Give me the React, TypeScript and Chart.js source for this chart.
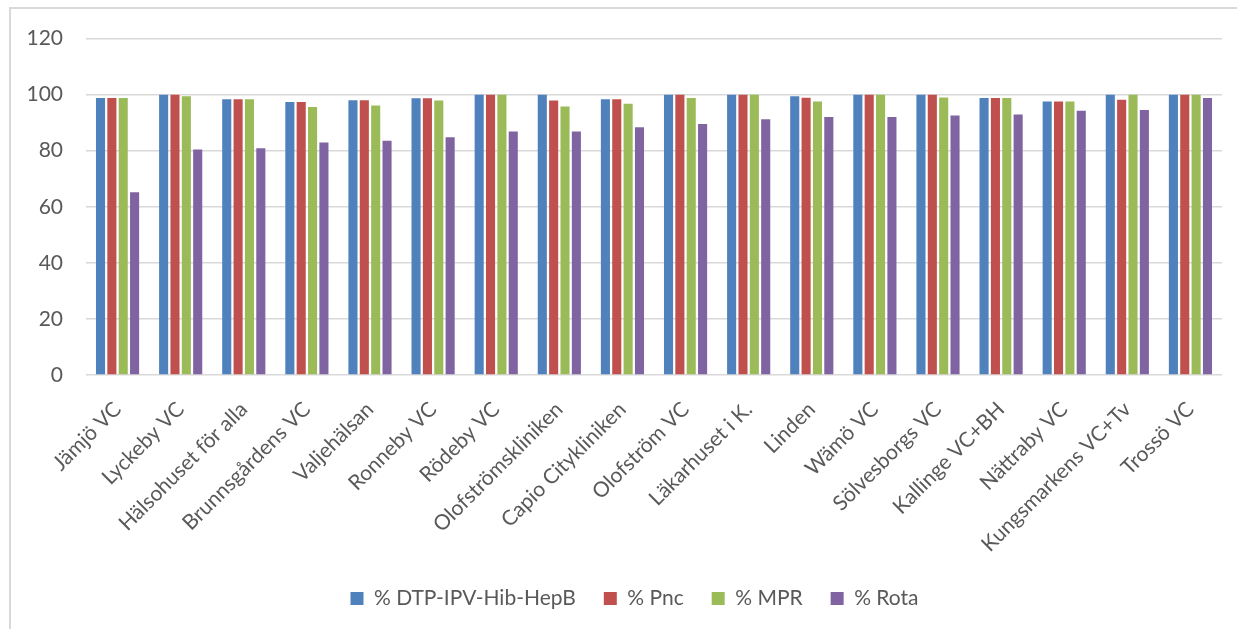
import React, { useEffect, useRef } from "react";
import { Chart, registerables } from "chart.js";

Chart.register(...registerables);

// Vaccination coverage per health centre (%)
const centres = [
  "Jämjö VC",
  "Lyckeby VC",
  "Hälsohuset för alla",
  "Brunnsgårdens VC",
  "Valjehälsan",
  "Ronneby VC",
  "Rödeby VC",
  "Olofströmskliniken",
  "Capio Citykliniken",
  "Olofström VC",
  "Läkarhuset i K.",
  "Linden",
  "Wämö VC",
  "Sölvesborgs VC",
  "Kallinge VC+BH",
  "Nättraby VC",
  "Kungsmarkens VC+Tv",
  "Trossö VC",
];

const dtpIpvHibHepB = [98.8, 100, 98.4, 97.4, 98.0, 98.7, 100, 100, 98.4, 100, 100, 99.4, 100, 100, 98.8, 97.6, 100, 100];
const pnc = [98.8, 100, 98.4, 97.4, 98.0, 98.7, 100, 97.9, 98.4, 100, 100, 98.9, 100, 100, 98.8, 97.6, 98.2, 100];
const mpr = [98.8, 99.4, 98.4, 95.6, 96.1, 97.9, 100, 95.8, 96.8, 98.8, 100, 97.6, 100, 99.0, 98.8, 97.6, 100, 100];
const rota = [65.2, 80.4, 80.9, 82.9, 83.6, 84.8, 86.9, 86.9, 88.4, 89.5, 91.2, 92.0, 92.0, 92.6, 92.9, 94.3, 94.5, 98.8];

const seriesNames = ["% DTP-IPV-Hib-HepB", "% Pnc", "% MPR", "% Rota"];
const seriesColors = ["#4F81BD", "#C0504D", "#9BBB59", "#8064A2"];

const yTicksMax = 120;
const yTicksStep = 20;

const textColor = "#595959";
const fontFamily = "Lato, 'Open Sans', sans-serif";

// Centre the legend under the plot area rather than the whole canvas
const legendShift = {
  id: "legendShift",
  afterLayout(chart: any) {
    const lg = chart.legend;
    if (lg) {
      lg.left += 18;
      lg.right += 18;
    }
  },
};

export default function App() {
  const canvasRef = useRef<HTMLCanvasElement | null>(null);

  useEffect(() => {
    const canvas = canvasRef.current;
    if (!canvas) return;
    const values = [dtpIpvHibHepB, pnc, mpr, rota];
    const chart = new Chart(canvas, {
      type: "bar",
      data: {
        labels: centres,
        datasets: values.map((v, i) => ({
          label: seriesNames[i],
          data: v,
          backgroundColor: seriesColors[i],
          borderWidth: 0,
          barPercentage: 0.8,
          categoryPercentage: 0.72,
        })),
      },
      plugins: [legendShift],
      options: {
        responsive: false,
        animation: false,
        layout: { padding: { left: 0, right: 15, top: 22, bottom: 10 } },
        plugins: {
          legend: {
            position: "bottom",
            labels: {
              color: textColor,
              font: { family: fontFamily, size: 21 },
              boxWidth: 13,
              boxHeight: 13,
              padding: 28,
            },
          },
          tooltip: { enabled: false },
          title: { display: false },
        },
        scales: {
          x: {
            grid: { display: false },
            border: { display: false },
            ticks: {
              color: textColor,
              font: { family: fontFamily, size: 21 },
              minRotation: 45,
              maxRotation: 45,
              autoSkip: false,
              padding: 14,
            },
            afterFit: (scale: any) => {
              scale.height = 185;
            },
          },
          y: {
            min: 0,
            max: yTicksMax,
            grid: {
              color: "#d9d9d9",
              lineWidth: 1.5,
              drawTicks: false,
            },
            border: { display: false },
            ticks: {
              stepSize: yTicksStep,
              color: textColor,
              font: { family: fontFamily, size: 21 },
              padding: 23,
            },
            afterFit: (scale: any) => {
              scale.width = 75;
            },
          },
        },
      },
    });
    return () => chart.destroy();
  }, []);

  return (
    <div
      style={{
        position: "fixed",
        inset: 0,
        overflow: "hidden",
        background: "#ffffff",
      }}
    >
      <div
        style={{
          position: "absolute",
          left: 9,
          top: 7,
          width: 1260,
          height: 700,
          borderLeft: "2px solid #d9d9d9",
          borderTop: "2px solid #d9d9d9",
        }}
      />
      <canvas
        ref={canvasRef}
        width={1226}
        height={626}
        style={{ position: "absolute", left: 11, top: 3, width: 1226, height: 626 }}
      />
    </div>
  );
}
